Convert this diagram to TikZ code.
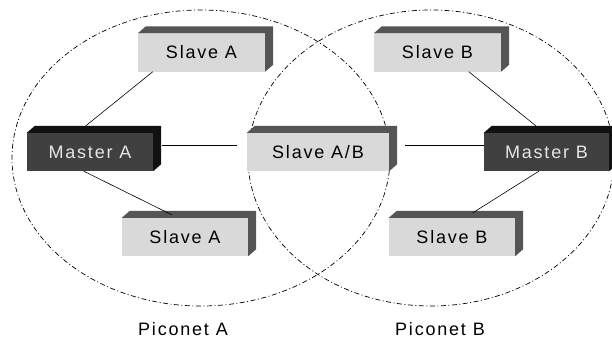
\documentclass[tikz,border=0pt]{standalone}
\usepackage{fontspec}
\setmainfont{Liberation Sans}[LetterSpace=10]
\definecolor{sfront}{HTML}{D9D9D9}
\definecolor{sside}{HTML}{555555}
\definecolor{mfront}{HTML}{404040}
\definecolor{mside}{HTML}{111111}
\definecolor{mtext}{HTML}{E6E6E6}
\begin{document}
\begin{tikzpicture}[x=1pt,y=-1pt,
  box/.style={minimum height=38pt, inner sep=0pt, font=\fontsize{18}{21}\selectfont},
  slavebox/.style={box, fill=sfront, text=black},
  masterbox/.style={box, fill=mfront, text=mtext},
  link/.style={draw=black, line width=0.6pt},
  piconet/.style={draw=black, line width=0.7pt, dash pattern=on 5pt off 2.5pt on 1pt off 2.5pt},
  lbl/.style={font=\fontsize{18}{21}\selectfont, inner sep=0pt}]
\fill[white] (0,0) rectangle (612,340);
\useasboundingbox (0,0) rectangle (612,340);
% piconets
\draw[piconet] (201,158) ellipse [x radius=189pt, y radius=148pt];
\draw[piconet] (431,158) ellipse [x radius=183pt, y radius=148pt];
% boxes
\node[slavebox, minimum width=127pt] (sa1) at (201.5,52.5) {Slave A};
\node[slavebox, minimum width=127pt] (sb1) at (437.5,52.5) {Slave B};
\node[masterbox, minimum width=126pt] (ma) at (90,152) {Master A};
\node[slavebox, minimum width=142pt] (sab) at (318,152) {Slave A/B};
\node[masterbox, minimum width=125pt] (mb) at (546.5,152) {Master B};
\node[slavebox, minimum width=126pt] (sa2) at (185,237) {Slave A};
\node[slavebox, minimum width=126pt] (sb2) at (452,237) {Slave B};
\foreach \n/\fc in {sa1/sside, sb1/sside, sab/sside, sa2/sside, sb2/sside, ma/mside, mb/mside} {
  \fill[\fc] (\n.north west) -- ++(8,-7) -- ([shift={(8,-7)}]\n.north east)
     -- ([shift={(8,-7)}]\n.south east) -- (\n.south east) -- (\n.north east) -- cycle;
}
% connectors
\draw[link] ([xshift=15pt]sa1.south west) -- ([shift={(59,-7)}]ma.north west);
\draw[link] ([shift={(9,-6.5)}]ma.east) -- ([shift={(-10,-6.5)}]sab.west);
\draw[link] ([shift={(16,-6.5)}]sab.east) -- ([yshift=6.5pt]mb.west);
\draw[link] ([xshift=95pt]sb1.south west) -- ([shift={(52,-7)}]mb.north west);
\draw[link] ([xshift=57pt]ma.south west) -- ([shift={(50,-3)}]sa2.north west);
\draw[link] ([xshift=55pt]mb.south west) -- ([shift={(84,-5)}]sb2.north west);
% labels
\node[lbl] (la) at (183,329) {Piconet A};
\node[lbl] (lb) at (440,329) {Piconet B};
\end{tikzpicture}
\end{document}
